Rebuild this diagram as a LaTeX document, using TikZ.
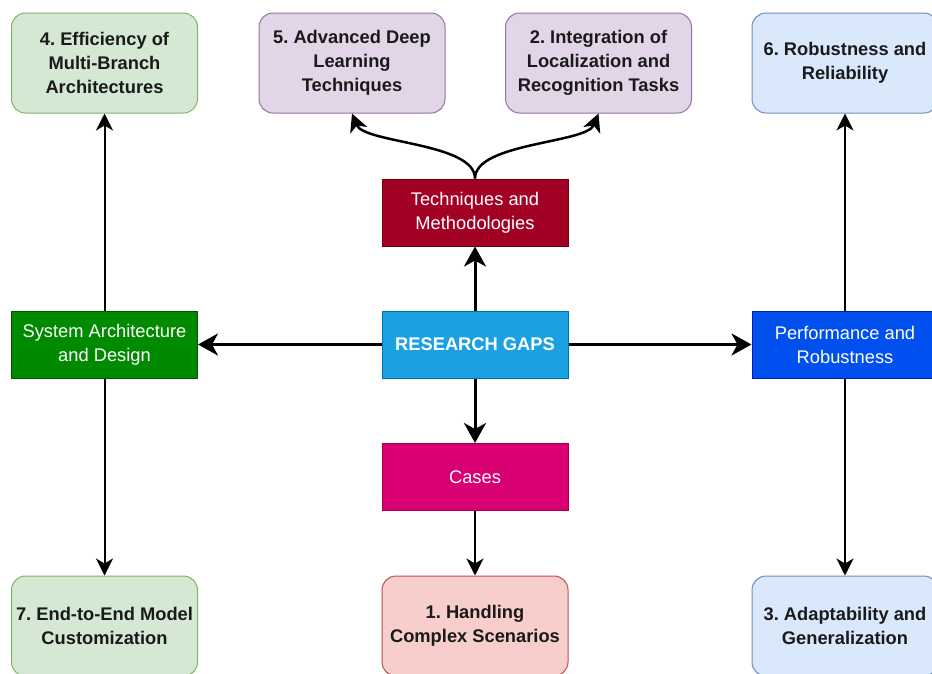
\documentclass[tikz,border=0pt]{standalone}
\usepackage{fontspec}
\setmainfont{Liberation Sans}
\usetikzlibrary{arrows.meta}
\frenchspacing

\definecolor{greenL}{HTML}{D5E8D4}\definecolor{greenB}{HTML}{82B366}
\definecolor{purpL}{HTML}{E1D5E7}\definecolor{purpB}{HTML}{9673A6}
\definecolor{blueL}{HTML}{DAE8FC}\definecolor{blueB}{HTML}{6C8EBF}
\definecolor{redL}{HTML}{F8CECC}\definecolor{redB}{HTML}{B85450}
\definecolor{sysF}{HTML}{008A00}\definecolor{sysB}{HTML}{005700}
\definecolor{gapF}{HTML}{1BA1E2}\definecolor{gapB}{HTML}{006EAF}
\definecolor{perfF}{HTML}{0050EF}\definecolor{perfB}{HTML}{001DBC}
\definecolor{techF}{HTML}{A20025}\definecolor{techB}{HTML}{6F0000}
\definecolor{caseF}{HTML}{D80073}\definecolor{caseB}{HTML}{A50040}
\definecolor{inkdark}{HTML}{1A1A1A}

\begin{document}
\begin{tikzpicture}[x=1pt,y=-1pt,
  basebox/.style={draw, line width=1pt, inner sep=0pt, align=center},
  gapbox/.style={basebox, rounded corners=14pt, minimum width=186pt, minimum height=100pt,
    text=inkdark, font=\bfseries\fontsize{18.3}{24}\selectfont},
  hubbox/.style={basebox, minimum width=186pt, minimum height=67pt,
    text=white, font=\fontsize{18.3}{24}\selectfont},
  bigarrow/.style={line width=3pt, -{Stealth[length=20pt,width=22pt,inset=6pt]}},
  smallarrow/.style={line width=2pt, -{Stealth[length=17pt,width=17pt,inset=5pt]}},
  curvearrow/.style={line width=2.5pt, -{Stealth[length=18pt,width=18pt,inset=5pt]}}
]
\path[use as bounding box] (0,0) rectangle (932,673);
\clip (0,0) rectangle (932,673);
\fill[white] (0,0) rectangle (932,673);

% gap boxes, top row
\node[gapbox, fill=greenL, draw=greenB] (b4) at (104.5,63) {4. Efficiency of\\Multi-Branch\\Architectures};
\node[gapbox, fill=purpL, draw=purpB] (b5) at (352,63) {5. Advanced Deep\\Learning\\Techniques};
\node[gapbox, fill=purpL, draw=purpB] (b2) at (598.5,63) {2. Integration of\\Localization and\\Recognition Tasks};
\node[gapbox, fill=blueL, draw=blueB] (b6) at (845,63) {6. Robustness and\\Reliability};

% hub boxes
\node[hubbox, fill=techF, draw=techB] (tm) at (475,212.5) {Techniques and\\Methodologies};
\node[hubbox, fill=sysF, draw=sysB] (sa) at (104.5,344.5) {System Architecture\\and Design};
\node[hubbox, fill=gapF, draw=gapB, font=\bfseries\fontsize{18.3}{24}\selectfont] (rg) at (475,344.5) {RESEARCH GAPS};
\node[hubbox, fill=perfF, draw=perfB] (pr) at (845,344.5) {Performance and\\Robustness};
\node[hubbox, fill=caseF, draw=caseB] (cs) at (475,477) {Cases};

% gap boxes, bottom row
\node[gapbox, fill=greenL, draw=greenB] (b7) at (104.5,626) {7. End-to-End Model\\Customization};
\node[gapbox, fill=redL, draw=redB] (b1) at (475,626) {1. Handling\\Complex Scenarios};
\node[gapbox, fill=blueL, draw=blueB] (b3) at (845,626) {3. Adaptability and\\Generalization};

% connectors from the centre
\draw[bigarrow] (rg) -- (sa);
\draw[bigarrow] (rg) -- (pr);
\draw[bigarrow] (rg) -- (tm);
\draw[bigarrow] (rg) -- (cs);

% connectors to the gaps
\draw[smallarrow] (cs) -- (b1);
\draw[smallarrow] (sa) -- (b4);
\draw[smallarrow] (sa) -- (b7);
\draw[smallarrow] (pr) -- (b6);
\draw[smallarrow] (pr) -- (b3);
\draw[curvearrow] (tm.north) .. controls +(0,-36) and +(12,30) .. (b5.south);
\draw[curvearrow] (tm.north) .. controls +(0,-36) and +(-12,30) .. (b2.south);
\end{tikzpicture}
\end{document}
